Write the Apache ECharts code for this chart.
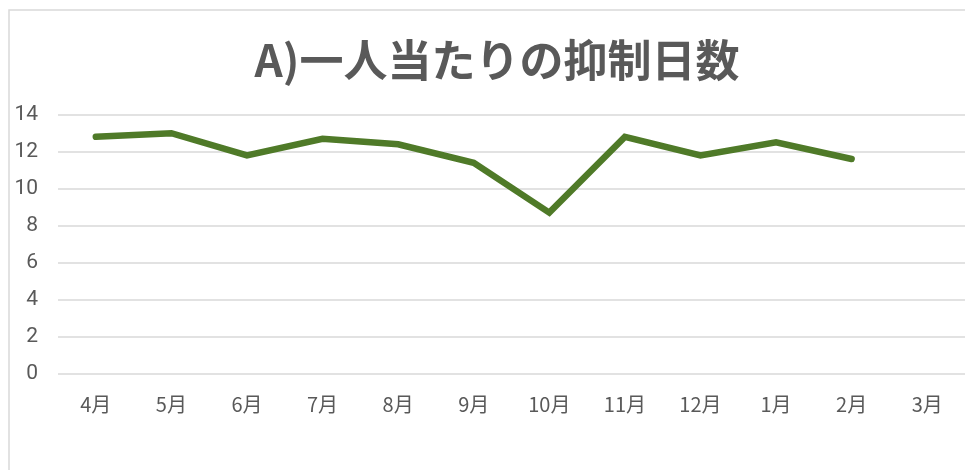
<!DOCTYPE html>
<html><head><meta charset="utf-8">
<script src="https://cdn.jsdelivr.net/npm/echarts@6/dist/echarts.min.js"></script>
<style>html,body{margin:0;padding:0;background:#fff}#c{width:965px;height:470px}</style>
</head><body><div id="c"></div>
<script>
const titleText = 'A)一人当たりの抑制日数';
const categories = ['4月','5月','6月','7月','8月','9月','10月','11月','12月','1月','2月','3月'];
const values = [12.8, 13.0, 11.8, 12.7, 12.4, 11.4, 8.7, 12.8, 11.8, 12.5, 11.6, null];
const yTicks = [0, 2, 4, 6, 8, 10, 12, 14];

const chart = echarts.init(document.getElementById('c'));
chart.setOption({
  animation: false,
  backgroundColor: '#fff',
  graphic: [{
    type: 'rect', shape: {x: 9, y: 10, width: 1000, height: 500},
    style: {fill: 'none', stroke: '#d9d9d9', lineWidth: 1.5}, silent: true, z: -1
  }],
  title: {
    text: titleText, left: 492, top: 33, textAlign: 'center',
    textStyle: {fontFamily: 'Noto Sans CJK JP', fontSize: 44, fontWeight: 'bold', color: '#595959'}
  },
  grid: {left: 58, top: 114.7, width: 918, height: 258.6, containLabel: false},
  xAxis: {
    type: 'category', data: categories, boundaryGap: true,
    axisLine: {show: false}, axisTick: {show: false},
    axisLabel: {color: '#595959', fontSize: 20, fontFamily: 'Noto Sans CJK JP', margin: 21}
  },
  yAxis: {
    type: 'value', min: yTicks[0], max: yTicks[yTicks.length - 1], interval: 2,
    axisLine: {show: false}, axisTick: {show: false},
    axisLabel: {color: '#595959', fontSize: 21, fontFamily: 'Roboto', margin: 20},
    splitLine: {lineStyle: {color: '#d9d9d9', width: 1.5}}
  },
  series: [{
    type: 'line', data: values, showSymbol: false, symbol: 'none',
    lineStyle: {color: '#4f7a28', width: 6.5, cap: 'round', join: 'miter'},
    itemStyle: {color: '#4f7a28'}
  }]
});
</script></body></html>
